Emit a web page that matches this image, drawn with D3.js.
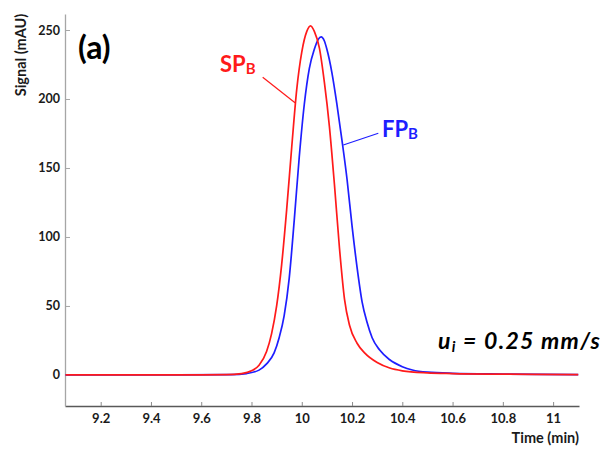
<!DOCTYPE html>
<html>
<head>
<meta charset="utf-8">
<script src="https://cdn.jsdelivr.net/npm/d3@7"></script>
<style>
	body{margin:0;background:#fff;}
	svg text{font-family:Lato,"Open Sans",sans-serif;font-weight:bold;}
</style>
</head>
<body>
<div id="chart"></div>
<script>
/* chromatogram, two peaks SP_B / FP_B */

// time (min) and signal (mAU)
const spTime = [9.06, 9.5, 9.7, 9.76, 9.80, 9.83, 9.86, 9.88, 9.90, 9.92, 9.94, 9.96, 9.98, 10.00, 10.02, 10.035, 10.05, 10.07, 10.09, 10.11, 10.13, 10.15, 10.17, 10.19, 10.22, 10.25, 10.30, 10.35, 10.40, 10.50, 10.60, 10.80, 11.10]
const spSignal = [0, 0, 0.2, 1, 3, 7, 17, 30, 50, 80, 120, 165, 207, 234, 249, 253, 249, 237, 212, 180, 138, 92, 55, 36, 23, 16, 9, 5, 3, 1.5, 1.0, 0.6, 0.3]

const fpTime = [9.06, 9.5, 9.72, 9.78, 9.83, 9.86, 9.89, 9.91, 9.93, 9.95, 9.97, 9.99, 10.01, 10.03, 10.05, 10.065, 10.077, 10.09, 10.10, 10.12, 10.14, 10.16, 10.18, 10.20, 10.22, 10.24, 10.26, 10.28, 10.31, 10.35, 10.40, 10.44, 10.50, 10.60, 10.80, 11.10]
const fpSignal = [0, 0, 0.2, 1, 3.5, 8, 16, 27, 43, 70, 112, 158, 196, 222, 236, 243, 245, 242, 236, 219, 196, 170, 142, 108, 78, 53, 38, 27, 18, 11, 6, 3.6, 2, 1.2, 0.7, 0.3]

const xTicks = [9.2, 9.4, 9.6, 9.8, 10, 10.2, 10.4, 10.6, 10.8, 11]
const yTicks = [0, 50, 100, 150, 200, 250]

const width = 611
const height = 449
const mLeft = 65, mRight = 579, mTop = 14, mBottom = 406

const svg = d3.select('#chart').append('svg')
	.attr('width',width)
	.attr('height',height)

const x = d3.scaleLinear().domain([9.058,11.103]).range([mLeft,mRight])
const y = d3.scaleLinear().domain([-22.5,261.6]).range([mBottom,mTop])

//axes
const xAxis = svg.append('g')
	.attr('transform',`translate(0,${mBottom})`)
	.call(d3.axisBottom(x).tickValues(xTicks).tickSizeInner(-4).tickSizeOuter(0).tickFormat(d3.format('~g')))
xAxis.select('.domain').attr('stroke','#595959').attr('stroke-width',1.3)
xAxis.selectAll('.tick line').attr('stroke','#8c8c8c')
xAxis.selectAll('.tick text').attr('dy',0).attr('y',17).attr('font-size',13).attr('fill','#1a1a1a')
	.style('font-family','Lato,"Open Sans",sans-serif').style('font-weight','bold')

const yAxis = svg.append('g')
	.attr('transform',`translate(${mLeft},0)`)
	.call(d3.axisLeft(y).tickValues(yTicks).tickSizeInner(-5).tickSizeOuter(0))
yAxis.select('.domain').attr('stroke','#a6a6a6').attr('stroke-width',1.3)
yAxis.selectAll('.tick line').attr('stroke','#a6a6a6')
yAxis.selectAll('.tick text').attr('x',-5).attr('font-size',12.5).attr('fill','#1a1a1a')
	.style('font-family','Lato,"Open Sans",sans-serif').style('font-weight','bold')

svg.append('text')
	.attr('transform','translate(26,55) rotate(-90)')
	.attr('text-anchor','middle')
	.attr('font-size',14.5)
	.attr('fill','#1a1a1a')
	.text('Signal (mAU)')

svg.append('text')
	.attr('x',mRight).attr('y',443)
	.attr('text-anchor','end')
	.attr('font-size',14.5)
	.attr('fill','#1a1a1a')
	.text('Time (min)')

//curves
const line = d3.line()
	.x(function(d){ return x(d[0]) })
	.y(function(d){ return y(d[1]) })
	.curve(d3.curveMonotoneX)

svg.append('path')
	.datum(d3.zip(fpTime,fpSignal))
	.attr('d',line)
	.attr('fill','none')
	.attr('stroke','#1e1eff')
	.attr('stroke-width',1.7)

svg.append('path')
	.datum(d3.zip(spTime,spSignal))
	.attr('d',line)
	.attr('fill','none')
	.attr('stroke','#ff1a1a')
	.attr('stroke-width',1.7)

//labels
svg.append('text')
	.attr('x',78).attr('y',59)
	.attr('font-size',32)
	.attr('fill','#000')
	.text('(a)')

const sp = svg.append('text')
	.attr('x',220).attr('y',72)
	.attr('font-size',22)
	.attr('fill','#ff1a1a')
sp.append('tspan').text('SP')
sp.append('tspan').attr('font-size',15).attr('dy',2).text('B')
svg.append('line')
	.attr('x1',262.7).attr('y1',77.3).attr('x2',295).attr('y2',102.7)
	.attr('stroke','#ff1a1a').attr('stroke-width',1.2)

const fp = svg.append('text')
	.attr('x',382).attr('y',137)
	.attr('font-size',22)
	.attr('fill','#1e1eff')
fp.append('tspan').text('FP')
fp.append('tspan').attr('font-size',15).attr('dy',2).text('B')
svg.append('line')
	.attr('x1',343.3).attr('y1',145).attr('x2',378.3).attr('y2',133.3)
	.attr('stroke','#1e1eff').attr('stroke-width',1.2)

const ui = svg.append('text')
	.attr('x',438).attr('y',349)
	.attr('font-size',23)
	.attr('font-style','italic')
	.attr('letter-spacing',1.3)
	.attr('fill','#000')
ui.append('tspan').text('u')
ui.append('tspan').attr('font-size',15).attr('dy',3).text('i')
ui.append('tspan').attr('dy',-3).text(' = 0.25 mm/s')
</script>
</body>
</html>
